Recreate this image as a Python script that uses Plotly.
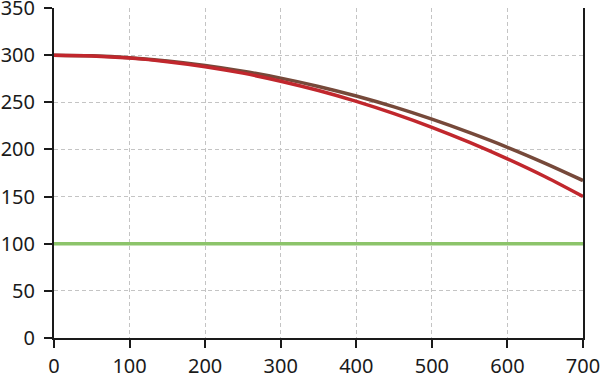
import plotly.graph_objects as go

x_vals = [0, 50, 100, 150, 200, 250, 300, 350, 400, 450, 500, 550, 600, 650, 700]
red_vals = [300, 299.2, 296.9, 293.1, 287.8, 280.9, 272.4, 262.5, 251.0, 238.0, 223.5, 207.5, 190.0, 171.0, 150.0]
brown_vals = [300, 299.3, 297.3, 293.9, 289.1, 283.0, 275.6, 266.8, 256.6, 245.1, 232.1, 217.8, 202.3, 185.3, 167.0]
green_x = [0, 700]
green_vals = [100, 100]

x_ticks = [0, 100, 200, 300, 400, 500, 600, 700]
y_ticks = [0, 50, 100, 150, 200, 250, 300, 350]

fig = go.Figure()
fig.add_trace(go.Scatter(x=green_x, y=green_vals, mode="lines",
                         line=dict(color="#8CC46A", width=3.5), showlegend=False))
fig.add_trace(go.Scatter(x=x_vals, y=brown_vals, mode="lines", line_shape="spline",
                         line=dict(color="#76493A", width=3.5), showlegend=False))
fig.add_trace(go.Scatter(x=x_vals, y=red_vals, mode="lines", line_shape="spline",
                         line=dict(color="#C1272D", width=3.5), showlegend=False))

axis_font = dict(family="Noto Sans", size=20, color="#1a1a1a")
fig.update_layout(
    width=600, height=377,
    margin=dict(l=54, r=17, t=8, b=39, autoexpand=False),
    paper_bgcolor="white", plot_bgcolor="white",
    xaxis=dict(range=[0, 700], tickvals=x_ticks, ticktext=[str(v) for v in x_ticks],
               showgrid=True, gridcolor="#c4c4c4", griddash="4px,3px", gridwidth=1.2,
               showline=True, linecolor="#1a1a1a", linewidth=2,
               ticks="outside", ticklen=8, tickwidth=2, tickcolor="#1a1a1a",
               tickfont=axis_font, zeroline=False, fixedrange=True, automargin=False,
               ticklabelstandoff=1, ticklabeloverflow="allow"),
    yaxis=dict(range=[0, 350], tickvals=y_ticks, ticktext=[str(v) for v in y_ticks],
               showgrid=True, gridcolor="#c4c4c4", griddash="4px,3px", gridwidth=1.2,
               showline=True, mirror=True, linecolor="#1a1a1a", linewidth=2,
               ticks="outside", ticklen=8, tickwidth=2, tickcolor="#1a1a1a",
               tickfont=axis_font, zeroline=False, fixedrange=True, automargin=False,
               ticklabelstandoff=5, ticklabeloverflow="allow"),
)
fig.write_html("out.html", config={"displayModeBar": False, "staticPlot": True},
               post_script="document.body.style.margin='0';document.body.style.padding='0';")
